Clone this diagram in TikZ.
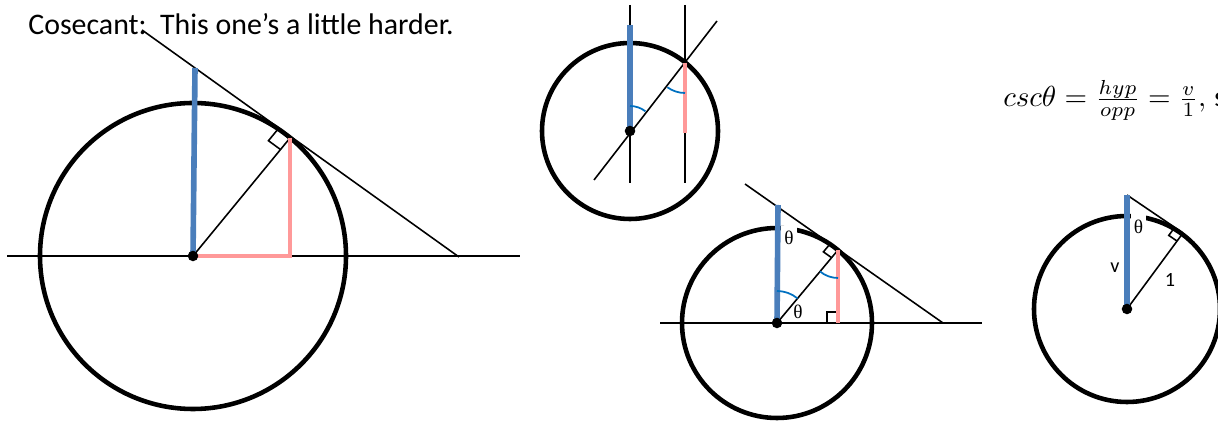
\documentclass[tikz,border=0pt]{standalone}
\usepackage{graphicx}
\usepackage{fontspec}
\setmainfont{Carlito}
\newfontfamily\grkfont{Liberation Serif}
\usepackage{tikz}
\usetikzlibrary{calc}
\definecolor{secblue}{RGB}{74,126,187}
\definecolor{sinpink}{RGB}{255,153,153}
\definecolor{arcblue}{RGB}{0,112,192}
\newcommand{\sqmark}[4]{%
  \draw[fine] let \p1=($(#1)!#4!(#2)$), \p2=($(#1)!#4!(#3)$), \p0=(#1)
    in (\p1) -- (\x1+\x2-\x0,\y1+\y2-\y0) -- (\p2);}

\begin{document}
\begin{tikzpicture}[x=0.02cm,y=-0.02cm,
  fine/.style={line width=0.9pt},
  ring/.style={line width=2.6pt},
  secant/.style={secblue,line width=3.2pt},
  sine/.style={sinpink,line width=2.8pt},
  angarc/.style={arcblue,line width=1pt},
  theta/.style={font=\grkfont\fontsize{11}{13}\selectfont,inner sep=1pt},
  plain/.style={font=\fontsize{11.5}{14}\selectfont,inner sep=1pt}]
  \useasboundingbox (0,0) rectangle (1218,421);
  \node[anchor=base west,font=\fontsize{17}{20}\selectfont,inner sep=0] (title) at (28,35) {Cosecant:\ \ This one’s a little harder.};
  \node[anchor=base west,inner sep=0] (csc) at (1003,107) {\scalebox{1.65}{$csc\theta=\frac{hyp}{opp}=\frac{v}{1},$}};
  \node[anchor=base west,font=\fontsize{16}{19}\selectfont,inner sep=0] (so) at (1214,107) {s};
  % big circle
  \coordinate (O1) at (193,256);
  \coordinate (T1) at (290,138);
  \coordinate (S1) at (142,30);
  \coordinate (E1) at (459,257);
  \coordinate (V1) at (195,68);
  \coordinate (F1) at (290,256);
  \draw[ring] (O1) circle[radius=153];
  \draw[fine] (7,256) -- (520,256);
  \draw[fine] (S1) -- (E1);
  \draw[fine] (O1) -- (T1);
  \sqmark{T1}{O1}{S1}{8.5pt}
  \draw[sine] (T1) -- (F1) -- (O1);
  \draw[secant] (O1) -- (V1);
  \fill (O1) circle[radius=3pt];
  % small circle
  \coordinate (O2) at (630,131);
  \coordinate (P2) at (685,63);
  \draw[ring] (O2) circle[radius=88];
  \draw[fine] (630,5) -- (630,183);
  \draw[fine] (685,5) -- (685,183);
  \draw[fine] (594,180) -- (717,21);
  \draw[sine] (P2) -- (685,133);
  \draw[secant] (630,25) -- (O2);
  \draw[angarc] (O2) ++(-90:25) arc[start angle=-90,end angle=-52,radius=25];
  \draw[angarc] (P2) ++(90:30) arc[start angle=90,end angle=126,radius=30];
  \fill (O2) circle[radius=3pt];
  % middle circle
  \coordinate (O3) at (777,323);
  \coordinate (T3) at (838,250);
  \coordinate (S3) at (745,184);
  \coordinate (E3) at (943,323);
  \coordinate (F3) at (838,323);
  \draw[ring] (O3) circle[radius=95];
  \node[theta,fill=white,inner xsep=2pt,inner ysep=3pt] (th3) at (789,238) {θ};
  \node[theta] (phi3) at (798,312) {θ};
  \draw[fine] (660,323) -- (982,323);
  \draw[fine] (S3) -- (E3);
  \draw[fine] (O3) -- (T3);
  \sqmark{T3}{O3}{S3}{5.7pt}
  \sqmark{F3}{O3}{T3}{6.3pt}
  \draw[sine] (T3) -- (F3);
  \draw[secant] (O3) -- (778,205);
  \draw[angarc] (O3) ++(-90:32) arc[start angle=-90,end angle=-50,radius=32];
  \draw[angarc] (T3) ++(90:28) arc[start angle=90,end angle=130,radius=28];
  \fill (O3) circle[radius=3pt];
  % right circle
  \coordinate (O4) at (1127,309);
  \coordinate (T4) at (1183,233);
  \coordinate (V4) at (1127,195);
  \draw[ring] (O4) circle[radius=93];
  \node[theta,fill=white,inner xsep=1.5pt,inner ysep=4pt] (th4) at (1138.5,226.5) {θ};
  \node[plain] (v) at (1115,268) {v};
  \node[plain] (one) at (1170,280) {1};
  \draw[fine] (V4) -- (T4);
  \draw[fine] (O4) -- (T4);
  \sqmark{T4}{O4}{V4}{5.7pt}
  \draw[secant] (O4) -- (V4);
  \fill (O4) circle[radius=3pt];
\end{tikzpicture}
\end{document}
